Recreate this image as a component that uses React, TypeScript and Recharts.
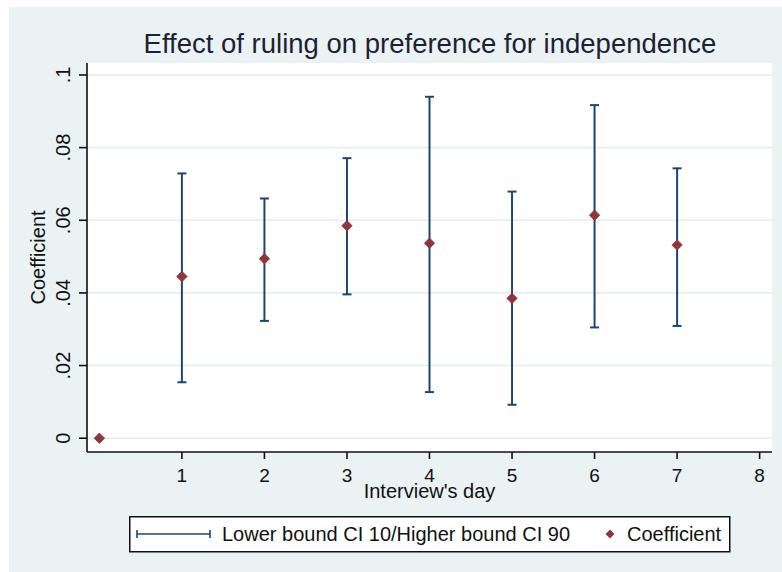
import React from 'react';
import { ScatterChart, Scatter, ErrorBar, XAxis, YAxis, CartesianGrid, Label } from 'recharts';

const days = [0, 1, 2, 3, 4, 5, 6, 7];
const coefficient = [0, 0.0445, 0.0494, 0.0585, 0.0537, 0.0385, 0.0614, 0.0532];
const lowerCI: (number | null)[] = [null, 0.0154, 0.0323, 0.0396, 0.0127, 0.0092, 0.0305, 0.0309];
const upperCI: (number | null)[] = [null, 0.0729, 0.066, 0.0771, 0.094, 0.0679, 0.0917, 0.0743];
const xTicks = [1, 2, 3, 4, 5, 6, 7, 8];
const yTicks = [0, 0.02, 0.04, 0.06, 0.08, 0.1];
const yTickLabels = ['0', '.02', '.04', '.06', '.08', '.1'];

const data = days.map((d, i) => {
  const lo = lowerCI[i];
  const hi = upperCI[i];
  return {
    day: d,
    coef: coefficient[i],
    ci: lo == null || hi == null ? null : [coefficient[i] - lo, hi - coefficient[i]],
  };
});

const FONT = '"Liberation Sans", Arial, sans-serif';
const NAVY = '#1a476f';
const MAROON = '#90353b';
const BG = '#eaf2f3';

const YTick = (props: any) => {
  const { x, y, payload } = props;
  const idx = yTicks.indexOf(payload.value);
  const label = idx >= 0 ? yTickLabels[idx] : String(payload.value);
  return (
    <text
      x={x}
      y={y}
      transform={`rotate(-90, ${x}, ${y})`}
      textAnchor="middle"
      fontSize={20}
      fontFamily={FONT}
      fill="#111"
    >
      {label}
    </text>
  );
};

const XTick = (props: any) => {
  const { x, y, payload } = props;
  return (
    <text x={x} y={y + 13.5} textAnchor="middle" fontSize={19} fontFamily={FONT} fill="#111">
      {payload.value}
    </text>
  );
};

const YTitle = (props: any) => {
  const vb = props.viewBox || { x: 0, y: 63, width: 87, height: 389 };
  const cx = vb.x + 45;
  const cy = vb.y + vb.height / 2;
  return (
    <text
      x={cx}
      y={cy}
      transform={`rotate(-90, ${cx}, ${cy})`}
      textAnchor="middle"
      fontSize={20}
      fontFamily={FONT}
      fill="#111"
    >
      Coefficient
    </text>
  );
};

const XTitle = (props: any) => {
  const vb = props.viewBox || { x: 87, y: 452, width: 685, height: 120 };
  return (
    <text
      x={vb.x + vb.width / 2}
      y={vb.y + 46}
      textAnchor="middle"
      fontSize={20}
      fontFamily={FONT}
      fill="#111"
    >
      Interview's day
    </text>
  );
};

const Diamond = (props: any) => {
  const { cx, cy } = props;
  if (cx == null || cy == null) return null;
  const r = 5.2;
  return (
    <path
      d={`M${cx},${cy - r}L${cx + r},${cy}L${cx},${cy + r}L${cx - r},${cy}Z`}
      fill={MAROON}
      stroke={MAROON}
      strokeWidth={0.8}
    />
  );
};

export default function App() {
  return (
    <div style={{ position: 'absolute', left: 0, top: 0, width: 782, height: 572, background: '#fff' }}>
      <div style={{ position: 'absolute', left: 9, top: 7, width: 773, height: 565, background: BG }} />
      <div style={{ position: 'absolute', left: 0, top: 0 }}>
        <ScatterChart width={782} height={572} margin={{ top: 63, right: 10, bottom: 0, left: 0 }}>
          <CartesianGrid
            vertical={false}
            horizontal={true}
            fill="#ffffff"
            stroke="#e4eef0"
            strokeWidth={1.6}
            horizontalValues={yTicks}
          />
          <XAxis
            type="number"
            dataKey="day"
            domain={[-0.15, 8.15]}
            ticks={xTicks}
            interval={0}
            allowDataOverflow
            height={120}
            tickSize={7}
            tickMargin={9}
            axisLine={{ stroke: '#111', strokeWidth: 1.6 }}
            tickLine={{ stroke: '#111', strokeWidth: 1.6 }}
            tick={<XTick />}
          >
            <Label content={<XTitle />} />
          </XAxis>
          <YAxis
            type="number"
            dataKey="coef"
            domain={[-0.0038, 0.1033]}
            ticks={yTicks}
            interval={0}
            allowDataOverflow
            width={87}
            tickSize={8}
            tickMargin={9}
            axisLine={{ stroke: '#111', strokeWidth: 1.6 }}
            tickLine={{ stroke: '#111', strokeWidth: 1.6 }}
            tick={<YTick />}
          >
            <Label content={<YTitle />} />
          </YAxis>
          <Scatter data={data} dataKey="coef" shape={<Diamond />} isAnimationActive={false}>
            <ErrorBar dataKey="ci" direction="y" width={4.5} stroke={NAVY} strokeWidth={2} isAnimationActive={false} />
          </Scatter>
        </ScatterChart>
      </div>
      <svg
        width={782}
        height={572}
        style={{ position: 'absolute', left: 0, top: 0, pointerEvents: 'none' }}
      >
        <text x={430} y={53} textAnchor="middle" fontSize={27.5} fontFamily={FONT} fill="#1c2233">
          Effect of ruling on preference for independence
        </text>
        <g transform="translate(129, 516)">
          <rect x={0.75} y={0.75} width={600} height={35} fill="#fff" stroke="#111" strokeWidth={1.5} />
          <line x1={8} y1={18} x2={81} y2={18} stroke={NAVY} strokeWidth={1.6} />
          <line x1={8} y1={14} x2={8} y2={22} stroke={NAVY} strokeWidth={1.6} />
          <line x1={81} y1={14} x2={81} y2={22} stroke={NAVY} strokeWidth={1.6} />
          <text x={93} y={25} fontSize={20} fontFamily={FONT} fill="#111">
            Lower bound CI 10/Higher bound CI 90
          </text>
          <path d="M481,13.5L485.5,18L481,22.5L476.5,18Z" fill={MAROON} />
          <text x={498} y={25} fontSize={20} fontFamily={FONT} fill="#111">
            Coefficient
          </text>
        </g>
      </svg>
    </div>
  );
}
